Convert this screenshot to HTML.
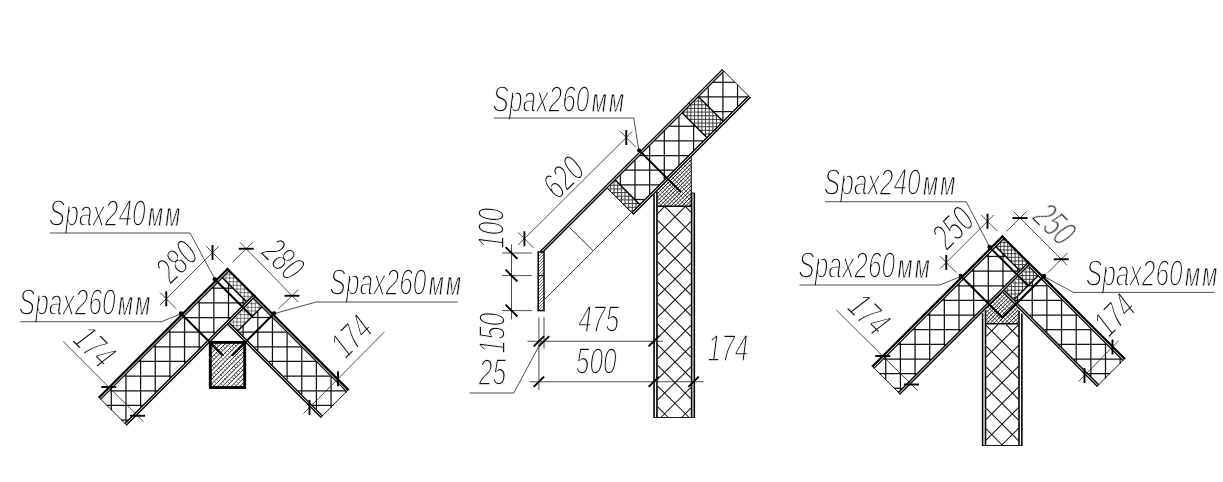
<!DOCTYPE html>
<html lang="ru"><head><meta charset="utf-8"><title>SIP panel joints</title>
<style>html,body{margin:0;padding:0;background:#fff}svg{display:block}
text{font-family:"Liberation Sans",sans-serif;font-style:italic;font-size:37px;fill:#111;stroke:#fff;stroke-width:1.5}
</style></head><body>
<svg width="1223" height="482" viewBox="0 0 1223 482">
<rect width="1223" height="482" fill="#fff"/>
<g id="labels" opacity="0.999">
<text transform="translate(48.8,226.2) rotate(0) scale(0.664,1)" text-anchor="start">Spax240<tspan font-size="33" letter-spacing="3.4" dx="3.5" stroke-width="0.8">мм</tspan></text>
<text transform="translate(18.8,315.2) rotate(0) scale(0.664,1)" text-anchor="start">Spax260<tspan font-size="33" letter-spacing="3.4" dx="3.5" stroke-width="0.8">мм</tspan></text>
<text transform="translate(329.55,294.95) rotate(0) scale(0.664,1)" text-anchor="start">Spax260<tspan font-size="33" letter-spacing="3.4" dx="3.5" stroke-width="0.8">мм</tspan></text>
<text transform="translate(185.58,270.58) rotate(-45) scale(0.664,1)" text-anchor="middle">280</text>
<text transform="translate(274.42,268.08) rotate(45) scale(0.664,1)" text-anchor="middle">280</text>
<text transform="translate(85.67,355.58) rotate(45) scale(0.664,1)" text-anchor="middle">174</text>
<text transform="translate(360.33,345.33) rotate(-45) scale(0.664,1)" text-anchor="middle">174</text>
<text transform="translate(492.55,111.7) rotate(0) scale(0.664,1)" text-anchor="start">Spax260<tspan font-size="33" letter-spacing="3.4" dx="3.5" stroke-width="0.8">мм</tspan></text>
<text transform="translate(572.33,186.33) rotate(-45) scale(0.664,1)" text-anchor="middle">620</text>
<text transform="translate(504.2,228.3) rotate(-90) scale(0.664,1)" text-anchor="middle">100</text>
<text transform="translate(505.2,333) rotate(-90) scale(0.664,1)" text-anchor="middle">150</text>
<text transform="translate(598.75,332.45) rotate(0) scale(0.664,1)" text-anchor="middle">475</text>
<text transform="translate(596.25,373.7) rotate(0) scale(0.664,1)" text-anchor="middle">500</text>
<text transform="translate(728,361.2) rotate(0) scale(0.664,1)" text-anchor="middle">174</text>
<text transform="translate(492.5,384.95) rotate(0) scale(0.664,1)" text-anchor="middle">25</text>
<text transform="translate(823.8,194.95) rotate(0) scale(0.664,1)" text-anchor="start">Spax240<tspan font-size="33" letter-spacing="3.4" dx="3.5" stroke-width="0.8">мм</tspan></text>
<text transform="translate(798.3,278.2) rotate(0) scale(0.664,1)" text-anchor="start">Spax260<tspan font-size="33" letter-spacing="3.4" dx="3.5" stroke-width="0.8">мм</tspan></text>
<text transform="translate(1085.8,285.8) rotate(0) scale(0.664,1)" text-anchor="start">Spax260<tspan font-size="33" letter-spacing="3.4" dx="3.5" stroke-width="0.8">мм</tspan></text>
<text transform="translate(961.83,236.83) rotate(-45) scale(0.664,1)" text-anchor="middle">250</text>
<text transform="translate(1045.67,233.08) rotate(45) scale(0.664,1)" text-anchor="middle">250</text>
<text transform="translate(860.17,323.08) rotate(45) scale(0.664,1)" text-anchor="middle">174</text>
<text transform="translate(1123.33,324.13) rotate(-45) scale(0.664,1)" text-anchor="middle">174</text>
</g>
<g id="drawing">
<line x1="111.3" y1="389.22" x2="111.3" y2="410.24" stroke="#111" stroke-width="1.25"/>
<line x1="125.95" y1="374.57" x2="125.95" y2="421.72" stroke="#111" stroke-width="1.25"/>
<line x1="140.6" y1="359.92" x2="140.6" y2="407.07" stroke="#111" stroke-width="1.25"/>
<line x1="155.25" y1="345.27" x2="155.25" y2="392.42" stroke="#111" stroke-width="1.25"/>
<line x1="169.9" y1="330.62" x2="169.9" y2="377.77" stroke="#111" stroke-width="1.25"/>
<line x1="184.55" y1="315.97" x2="184.55" y2="363.12" stroke="#111" stroke-width="1.25"/>
<line x1="199.2" y1="301.32" x2="199.2" y2="348.47" stroke="#111" stroke-width="1.25"/>
<line x1="213.85" y1="286.67" x2="213.85" y2="333.82" stroke="#111" stroke-width="1.25"/>
<line x1="228.5" y1="283.91" x2="228.5" y2="319.17" stroke="#111" stroke-width="1.25"/>
<line x1="243.15" y1="298.56" x2="243.15" y2="304.52" stroke="#111" stroke-width="1.25"/>
<line x1="212.32" y1="288.2" x2="232.79" y2="288.2" stroke="#111" stroke-width="1.25"/>
<line x1="197.67" y1="302.85" x2="244.82" y2="302.85" stroke="#111" stroke-width="1.25"/>
<line x1="183.02" y1="317.5" x2="230.17" y2="317.5" stroke="#111" stroke-width="1.25"/>
<line x1="168.37" y1="332.15" x2="215.52" y2="332.15" stroke="#111" stroke-width="1.25"/>
<line x1="153.72" y1="346.8" x2="200.87" y2="346.8" stroke="#111" stroke-width="1.25"/>
<line x1="139.07" y1="361.45" x2="186.22" y2="361.45" stroke="#111" stroke-width="1.25"/>
<line x1="124.42" y1="376.1" x2="171.57" y2="376.1" stroke="#111" stroke-width="1.25"/>
<line x1="109.77" y1="390.75" x2="156.92" y2="390.75" stroke="#111" stroke-width="1.25"/>
<line x1="106.46" y1="405.4" x2="142.27" y2="405.4" stroke="#111" stroke-width="1.25"/>
<line x1="121.11" y1="420.05" x2="127.62" y2="420.05" stroke="#111" stroke-width="1.25"/>
<line x1="226.02" y1="274.5" x2="226.02" y2="281.43" stroke="#444" stroke-width="0.7"/>
<line x1="229.68" y1="271.8" x2="229.68" y2="285.09" stroke="#444" stroke-width="0.7"/>
<line x1="233.34" y1="275.46" x2="233.34" y2="288.75" stroke="#444" stroke-width="0.7"/>
<line x1="237" y1="279.12" x2="237" y2="292.41" stroke="#444" stroke-width="0.7"/>
<line x1="240.66" y1="282.78" x2="240.66" y2="296.07" stroke="#444" stroke-width="0.7"/>
<line x1="244.32" y1="286.44" x2="244.32" y2="299.73" stroke="#444" stroke-width="0.7"/>
<line x1="247.98" y1="290.1" x2="247.98" y2="299.69" stroke="#444" stroke-width="0.7"/>
<line x1="251.64" y1="293.76" x2="251.64" y2="296.03" stroke="#444" stroke-width="0.7"/>
<line x1="226.14" y1="274.38" x2="232.26" y2="274.38" stroke="#444" stroke-width="0.7"/>
<line x1="222.63" y1="278.04" x2="235.92" y2="278.04" stroke="#444" stroke-width="0.7"/>
<line x1="226.29" y1="281.7" x2="239.58" y2="281.7" stroke="#444" stroke-width="0.7"/>
<line x1="229.95" y1="285.36" x2="243.24" y2="285.36" stroke="#444" stroke-width="0.7"/>
<line x1="233.61" y1="289.02" x2="246.9" y2="289.02" stroke="#444" stroke-width="0.7"/>
<line x1="237.27" y1="292.68" x2="250.56" y2="292.68" stroke="#444" stroke-width="0.7"/>
<line x1="240.93" y1="296.34" x2="251.33" y2="296.34" stroke="#444" stroke-width="0.7"/>
<line x1="244.59" y1="300" x2="247.67" y2="300" stroke="#444" stroke-width="0.7"/>
<line x1="243.15" y1="325.6" x2="243.15" y2="335.82" stroke="#111" stroke-width="1.25"/>
<line x1="257.8" y1="310.95" x2="257.8" y2="350.47" stroke="#111" stroke-width="1.25"/>
<line x1="272.45" y1="317.97" x2="272.45" y2="365.12" stroke="#111" stroke-width="1.25"/>
<line x1="287.1" y1="332.62" x2="287.1" y2="379.77" stroke="#111" stroke-width="1.25"/>
<line x1="301.75" y1="347.27" x2="301.75" y2="394.42" stroke="#111" stroke-width="1.25"/>
<line x1="316.4" y1="361.92" x2="316.4" y2="409.07" stroke="#111" stroke-width="1.25"/>
<line x1="331.05" y1="376.57" x2="331.05" y2="407.68" stroke="#111" stroke-width="1.25"/>
<line x1="345.7" y1="391.22" x2="345.7" y2="393.03" stroke="#111" stroke-width="1.25"/>
<line x1="251.25" y1="317.5" x2="271.98" y2="317.5" stroke="#111" stroke-width="1.25"/>
<line x1="239.48" y1="332.15" x2="286.63" y2="332.15" stroke="#111" stroke-width="1.25"/>
<line x1="254.13" y1="346.8" x2="301.28" y2="346.8" stroke="#111" stroke-width="1.25"/>
<line x1="268.78" y1="361.45" x2="315.93" y2="361.45" stroke="#111" stroke-width="1.25"/>
<line x1="283.43" y1="376.1" x2="330.58" y2="376.1" stroke="#111" stroke-width="1.25"/>
<line x1="298.08" y1="390.75" x2="345.23" y2="390.75" stroke="#111" stroke-width="1.25"/>
<line x1="312.73" y1="405.4" x2="333.33" y2="405.4" stroke="#111" stroke-width="1.25"/>
<line x1="233.34" y1="319.85" x2="233.34" y2="326.01" stroke="#444" stroke-width="0.7"/>
<line x1="237" y1="316.19" x2="237" y2="329.67" stroke="#444" stroke-width="0.7"/>
<line x1="240.66" y1="312.53" x2="240.66" y2="328.09" stroke="#444" stroke-width="0.7"/>
<line x1="244.32" y1="308.87" x2="244.32" y2="324.43" stroke="#444" stroke-width="0.7"/>
<line x1="247.98" y1="305.21" x2="247.98" y2="320.77" stroke="#444" stroke-width="0.7"/>
<line x1="251.64" y1="301.55" x2="251.64" y2="317.11" stroke="#444" stroke-width="0.7"/>
<line x1="255.3" y1="300.82" x2="255.3" y2="313.45" stroke="#444" stroke-width="0.7"/>
<line x1="258.96" y1="304.48" x2="258.96" y2="309.79" stroke="#444" stroke-width="0.7"/>
<line x1="253.19" y1="300" x2="254.48" y2="300" stroke="#444" stroke-width="0.7"/>
<line x1="249.53" y1="303.66" x2="258.14" y2="303.66" stroke="#444" stroke-width="0.7"/>
<line x1="245.87" y1="307.32" x2="261.43" y2="307.32" stroke="#444" stroke-width="0.7"/>
<line x1="242.21" y1="310.98" x2="257.77" y2="310.98" stroke="#444" stroke-width="0.7"/>
<line x1="238.55" y1="314.64" x2="254.11" y2="314.64" stroke="#444" stroke-width="0.7"/>
<line x1="234.89" y1="318.3" x2="250.45" y2="318.3" stroke="#444" stroke-width="0.7"/>
<line x1="231.23" y1="321.96" x2="246.79" y2="321.96" stroke="#444" stroke-width="0.7"/>
<line x1="232.95" y1="325.62" x2="243.13" y2="325.62" stroke="#444" stroke-width="0.7"/>
<line x1="236.61" y1="329.28" x2="239.47" y2="329.28" stroke="#444" stroke-width="0.7"/>
<line x1="228.28" y1="268.28" x2="98.81" y2="397.75" stroke="#000" stroke-width="2.2"/>
<line x1="229.97" y1="269.97" x2="100.5" y2="399.45" stroke="#000" stroke-width="1.2"/>
<line x1="255.75" y1="295.75" x2="126.28" y2="425.22" stroke="#000" stroke-width="1.4"/>
<line x1="254.26" y1="294.26" x2="124.79" y2="423.73" stroke="#000" stroke-width="1.4"/>
<line x1="98.31" y1="396.69" x2="127.05" y2="425.43" stroke="#000" stroke-width="0.9"/>
<line x1="226.69" y1="268.31" x2="255.43" y2="297.05" stroke="#000" stroke-width="2.3"/>
<line x1="221.91" y1="277.33" x2="246.41" y2="301.83" stroke="#000" stroke-width="1.5"/>
<line x1="255.46" y1="297.02" x2="348.59" y2="390.15" stroke="#000" stroke-width="2.2"/>
<line x1="253.77" y1="298.72" x2="346.89" y2="391.84" stroke="#000" stroke-width="1.2"/>
<line x1="227.99" y1="324.49" x2="321.12" y2="417.61" stroke="#000" stroke-width="1.4"/>
<line x1="229.48" y1="323" x2="322.61" y2="416.13" stroke="#000" stroke-width="1.4"/>
<line x1="349.08" y1="389.08" x2="320.34" y2="417.83" stroke="#000" stroke-width="0.9"/>
<line x1="262.25" y1="306.49" x2="237.75" y2="330.99" stroke="#000" stroke-width="1.4"/>
<line x1="215.27" y1="279.73" x2="252.56" y2="317.03" stroke="#000" stroke-width="2"/>
<circle cx="214.84" cy="279.31" r="2.2" fill="#000"/>
<line x1="181.25" y1="313.75" x2="222.97" y2="355.47" stroke="#000" stroke-width="2"/>
<line x1="273.75" y1="313.75" x2="232.03" y2="355.47" stroke="#000" stroke-width="2"/>
<circle cx="180.97" cy="313.47" r="2.2" fill="#000"/>
<circle cx="274.03" cy="313.47" r="2.2" fill="#000"/>
<line x1="210.3" y1="345.6" x2="213.5" y2="342.4" stroke="#111" stroke-width="0.9"/>
<line x1="210.3" y1="350" x2="217.9" y2="342.4" stroke="#111" stroke-width="0.9"/>
<line x1="210.3" y1="354.4" x2="222.3" y2="342.4" stroke="#111" stroke-width="0.9"/>
<line x1="210.3" y1="358.8" x2="226.7" y2="342.4" stroke="#111" stroke-width="0.9"/>
<line x1="210.3" y1="363.2" x2="231.1" y2="342.4" stroke="#111" stroke-width="0.9"/>
<line x1="210.3" y1="367.6" x2="235.5" y2="342.4" stroke="#111" stroke-width="0.9"/>
<line x1="210.3" y1="372" x2="239.9" y2="342.4" stroke="#111" stroke-width="0.9"/>
<line x1="210.3" y1="376.4" x2="244.3" y2="342.4" stroke="#111" stroke-width="0.9"/>
<line x1="210.3" y1="380.8" x2="244.7" y2="346.4" stroke="#111" stroke-width="0.9"/>
<line x1="210.3" y1="385.2" x2="244.7" y2="350.8" stroke="#111" stroke-width="0.9"/>
<line x1="212.4" y1="387.5" x2="244.7" y2="355.2" stroke="#111" stroke-width="0.9"/>
<line x1="216.8" y1="387.5" x2="244.7" y2="359.6" stroke="#111" stroke-width="0.9"/>
<line x1="221.2" y1="387.5" x2="244.7" y2="364" stroke="#111" stroke-width="0.9"/>
<line x1="225.6" y1="387.5" x2="244.7" y2="368.4" stroke="#111" stroke-width="0.9"/>
<line x1="230" y1="387.5" x2="244.7" y2="372.8" stroke="#111" stroke-width="0.9"/>
<line x1="234.4" y1="387.5" x2="244.7" y2="377.2" stroke="#111" stroke-width="0.9"/>
<line x1="238.8" y1="387.5" x2="244.7" y2="381.6" stroke="#111" stroke-width="0.9"/>
<line x1="243.2" y1="387.5" x2="244.7" y2="386" stroke="#111" stroke-width="0.9"/>
<line x1="210.3" y1="386.3" x2="211.5" y2="387.5" stroke="#222" stroke-width="0.8" stroke-dasharray="2.6 3" stroke-dashoffset="0"/>
<line x1="210.3" y1="381.9" x2="215.9" y2="387.5" stroke="#222" stroke-width="0.8" stroke-dasharray="2.6 3" stroke-dashoffset="2.8"/>
<line x1="210.3" y1="377.5" x2="220.3" y2="387.5" stroke="#222" stroke-width="0.8" stroke-dasharray="2.6 3" stroke-dashoffset="0"/>
<line x1="210.3" y1="373.1" x2="224.7" y2="387.5" stroke="#222" stroke-width="0.8" stroke-dasharray="2.6 3" stroke-dashoffset="2.8"/>
<line x1="210.3" y1="368.7" x2="229.1" y2="387.5" stroke="#222" stroke-width="0.8" stroke-dasharray="2.6 3" stroke-dashoffset="0"/>
<line x1="210.3" y1="364.3" x2="233.5" y2="387.5" stroke="#222" stroke-width="0.8" stroke-dasharray="2.6 3" stroke-dashoffset="2.8"/>
<line x1="210.3" y1="359.9" x2="237.9" y2="387.5" stroke="#222" stroke-width="0.8" stroke-dasharray="2.6 3" stroke-dashoffset="0"/>
<line x1="210.3" y1="355.5" x2="242.3" y2="387.5" stroke="#222" stroke-width="0.8" stroke-dasharray="2.6 3" stroke-dashoffset="2.8"/>
<line x1="210.3" y1="351.1" x2="244.7" y2="385.5" stroke="#222" stroke-width="0.8" stroke-dasharray="2.6 3" stroke-dashoffset="0"/>
<line x1="210.3" y1="346.7" x2="244.7" y2="381.1" stroke="#222" stroke-width="0.8" stroke-dasharray="2.6 3" stroke-dashoffset="2.8"/>
<line x1="210.4" y1="342.4" x2="244.7" y2="376.7" stroke="#222" stroke-width="0.8" stroke-dasharray="2.6 3" stroke-dashoffset="0"/>
<line x1="214.8" y1="342.4" x2="244.7" y2="372.3" stroke="#222" stroke-width="0.8" stroke-dasharray="2.6 3" stroke-dashoffset="2.8"/>
<line x1="219.2" y1="342.4" x2="244.7" y2="367.9" stroke="#222" stroke-width="0.8" stroke-dasharray="2.6 3" stroke-dashoffset="0"/>
<line x1="223.6" y1="342.4" x2="244.7" y2="363.5" stroke="#222" stroke-width="0.8" stroke-dasharray="2.6 3" stroke-dashoffset="2.8"/>
<line x1="228" y1="342.4" x2="244.7" y2="359.1" stroke="#222" stroke-width="0.8" stroke-dasharray="2.6 3" stroke-dashoffset="0"/>
<line x1="232.4" y1="342.4" x2="244.7" y2="354.7" stroke="#222" stroke-width="0.8" stroke-dasharray="2.6 3" stroke-dashoffset="2.8"/>
<line x1="236.8" y1="342.4" x2="244.7" y2="350.3" stroke="#222" stroke-width="0.8" stroke-dasharray="2.6 3" stroke-dashoffset="0"/>
<line x1="241.2" y1="342.4" x2="244.7" y2="345.9" stroke="#222" stroke-width="0.8" stroke-dasharray="2.6 3" stroke-dashoffset="2.8"/>
<rect x="210.3" y="342.4" width="34.4" height="45.1" fill="none" stroke="#000" stroke-width="2.9"/>
<line x1="208.12" y1="340.62" x2="222.97" y2="355.47" stroke="#000" stroke-width="2"/>
<line x1="246.88" y1="340.62" x2="232.03" y2="355.47" stroke="#000" stroke-width="2"/>
<polyline points="50,233 190,233 215.27,279.73" fill="none" stroke="#222" stroke-width="0.8"/>
<polyline points="20,321.75 161.25,321.75 181.25,313.75" fill="none" stroke="#222" stroke-width="0.8"/>
<polyline points="457.5,302 316.25,302 273.75,313.75" fill="none" stroke="#222" stroke-width="0.8"/>
<line x1="218.72" y1="246.28" x2="160.03" y2="304.97" stroke="#222" stroke-width="0.8"/>
<line x1="212.5" y1="245" x2="212.5" y2="260" stroke="#000" stroke-width="1.9"/>
<line x1="166.25" y1="291.25" x2="166.25" y2="306.25" stroke="#000" stroke-width="1.9"/>
<line x1="222.4" y1="262.4" x2="206.14" y2="246.14" stroke="#222" stroke-width="0.8"/>
<line x1="176.15" y1="308.65" x2="159.89" y2="292.39" stroke="#222" stroke-width="0.8"/>
<line x1="240.11" y1="242.44" x2="298.14" y2="302.06" stroke="#222" stroke-width="0.8"/>
<line x1="238.75" y1="248.75" x2="253.75" y2="248.75" stroke="#000" stroke-width="1.9"/>
<line x1="284.5" y1="295.75" x2="299.5" y2="295.75" stroke="#000" stroke-width="1.9"/>
<line x1="252.7" y1="242.47" x2="232.64" y2="262" stroke="#222" stroke-width="0.8"/>
<line x1="298.45" y1="289.47" x2="278.39" y2="309" stroke="#222" stroke-width="0.8"/>
<line x1="143.51" y1="421.76" x2="63.14" y2="341.39" stroke="#222" stroke-width="0.8"/>
<line x1="130" y1="415.75" x2="145" y2="415.75" stroke="#000" stroke-width="1.9"/>
<line x1="101.25" y1="387" x2="116.25" y2="387" stroke="#000" stroke-width="1.9"/>
<line x1="303.52" y1="413.54" x2="384.46" y2="331.88" stroke="#222" stroke-width="0.8"/>
<line x1="309.5" y1="400" x2="309.5" y2="415" stroke="#000" stroke-width="1.9"/>
<line x1="338" y1="371.25" x2="338" y2="386.25" stroke="#000" stroke-width="1.9"/>
<line x1="708.25" y1="87.13" x2="708.25" y2="106.39" stroke="#111" stroke-width="1.25"/>
<line x1="722.9" y1="72.48" x2="722.9" y2="121.04" stroke="#111" stroke-width="1.25"/>
<line x1="737.55" y1="84.92" x2="737.55" y2="106.55" stroke="#111" stroke-width="1.25"/>
<line x1="713.08" y1="82.3" x2="734.93" y2="82.3" stroke="#111" stroke-width="1.25"/>
<line x1="698.81" y1="96.95" x2="747.15" y2="96.95" stroke="#111" stroke-width="1.25"/>
<line x1="713.46" y1="111.6" x2="732.5" y2="111.6" stroke="#111" stroke-width="1.25"/>
<line x1="620.35" y1="175.03" x2="620.35" y2="184.94" stroke="#111" stroke-width="1.25"/>
<line x1="635" y1="160.38" x2="635" y2="199.59" stroke="#111" stroke-width="1.25"/>
<line x1="649.65" y1="145.73" x2="649.65" y2="194.45" stroke="#111" stroke-width="1.25"/>
<line x1="664.3" y1="131.08" x2="664.3" y2="179.8" stroke="#111" stroke-width="1.25"/>
<line x1="678.95" y1="116.43" x2="678.95" y2="165.15" stroke="#111" stroke-width="1.25"/>
<line x1="693.6" y1="124.26" x2="693.6" y2="150.5" stroke="#111" stroke-width="1.25"/>
<line x1="669.13" y1="126.25" x2="695.59" y2="126.25" stroke="#111" stroke-width="1.25"/>
<line x1="654.48" y1="140.9" x2="703.2" y2="140.9" stroke="#111" stroke-width="1.25"/>
<line x1="639.83" y1="155.55" x2="688.55" y2="155.55" stroke="#111" stroke-width="1.25"/>
<line x1="625.18" y1="170.2" x2="673.9" y2="170.2" stroke="#111" stroke-width="1.25"/>
<line x1="620.26" y1="184.85" x2="659.25" y2="184.85" stroke="#111" stroke-width="1.25"/>
<line x1="634.91" y1="199.5" x2="644.6" y2="199.5" stroke="#111" stroke-width="1.25"/>
<line x1="683.58" y1="111.8" x2="683.58" y2="114.24" stroke="#2a2a2a" stroke-width="0.9"/>
<line x1="687.24" y1="108.14" x2="687.24" y2="117.9" stroke="#2a2a2a" stroke-width="0.9"/>
<line x1="690.9" y1="104.48" x2="690.9" y2="121.56" stroke="#2a2a2a" stroke-width="0.9"/>
<line x1="694.56" y1="100.82" x2="694.56" y2="125.22" stroke="#2a2a2a" stroke-width="0.9"/>
<line x1="698.22" y1="97.16" x2="698.22" y2="128.88" stroke="#2a2a2a" stroke-width="0.9"/>
<line x1="701.88" y1="100.02" x2="701.88" y2="132.54" stroke="#2a2a2a" stroke-width="0.9"/>
<line x1="705.54" y1="103.68" x2="705.54" y2="136.2" stroke="#2a2a2a" stroke-width="0.9"/>
<line x1="709.2" y1="107.34" x2="709.2" y2="134.9" stroke="#2a2a2a" stroke-width="0.9"/>
<line x1="712.86" y1="111" x2="712.86" y2="131.24" stroke="#2a2a2a" stroke-width="0.9"/>
<line x1="716.52" y1="114.66" x2="716.52" y2="127.58" stroke="#2a2a2a" stroke-width="0.9"/>
<line x1="720.18" y1="118.32" x2="720.18" y2="123.92" stroke="#2a2a2a" stroke-width="0.9"/>
<line x1="697.94" y1="97.44" x2="699.3" y2="97.44" stroke="#2a2a2a" stroke-width="0.9"/>
<line x1="694.28" y1="101.1" x2="702.96" y2="101.1" stroke="#2a2a2a" stroke-width="0.9"/>
<line x1="690.62" y1="104.76" x2="706.62" y2="104.76" stroke="#2a2a2a" stroke-width="0.9"/>
<line x1="686.96" y1="108.42" x2="710.28" y2="108.42" stroke="#2a2a2a" stroke-width="0.9"/>
<line x1="683.3" y1="112.08" x2="713.94" y2="112.08" stroke="#2a2a2a" stroke-width="0.9"/>
<line x1="685.08" y1="115.74" x2="717.6" y2="115.74" stroke="#2a2a2a" stroke-width="0.9"/>
<line x1="688.74" y1="119.4" x2="721.26" y2="119.4" stroke="#2a2a2a" stroke-width="0.9"/>
<line x1="692.4" y1="123.06" x2="721.04" y2="123.06" stroke="#2a2a2a" stroke-width="0.9"/>
<line x1="696.06" y1="126.72" x2="717.38" y2="126.72" stroke="#2a2a2a" stroke-width="0.9"/>
<line x1="699.72" y1="130.38" x2="713.72" y2="130.38" stroke="#2a2a2a" stroke-width="0.9"/>
<line x1="703.38" y1="134.04" x2="710.06" y2="134.04" stroke="#2a2a2a" stroke-width="0.9"/>
<line x1="610.38" y1="185" x2="610.38" y2="191.37" stroke="#2a2a2a" stroke-width="0.9"/>
<line x1="614.04" y1="181.34" x2="614.04" y2="195.03" stroke="#2a2a2a" stroke-width="0.9"/>
<line x1="617.7" y1="182.29" x2="617.7" y2="198.69" stroke="#2a2a2a" stroke-width="0.9"/>
<line x1="621.36" y1="185.95" x2="621.36" y2="202.35" stroke="#2a2a2a" stroke-width="0.9"/>
<line x1="625.02" y1="189.61" x2="625.02" y2="206.01" stroke="#2a2a2a" stroke-width="0.9"/>
<line x1="628.68" y1="193.27" x2="628.68" y2="209.67" stroke="#2a2a2a" stroke-width="0.9"/>
<line x1="632.34" y1="196.93" x2="632.34" y2="211.76" stroke="#2a2a2a" stroke-width="0.9"/>
<line x1="636" y1="200.59" x2="636" y2="208.1" stroke="#2a2a2a" stroke-width="0.9"/>
<line x1="613.76" y1="181.62" x2="617.03" y2="181.62" stroke="#2a2a2a" stroke-width="0.9"/>
<line x1="610.1" y1="185.28" x2="620.69" y2="185.28" stroke="#2a2a2a" stroke-width="0.9"/>
<line x1="607.95" y1="188.94" x2="624.35" y2="188.94" stroke="#2a2a2a" stroke-width="0.9"/>
<line x1="611.61" y1="192.6" x2="628.01" y2="192.6" stroke="#2a2a2a" stroke-width="0.9"/>
<line x1="615.27" y1="196.26" x2="631.67" y2="196.26" stroke="#2a2a2a" stroke-width="0.9"/>
<line x1="618.93" y1="199.92" x2="635.33" y2="199.92" stroke="#2a2a2a" stroke-width="0.9"/>
<line x1="622.59" y1="203.58" x2="638.99" y2="203.58" stroke="#2a2a2a" stroke-width="0.9"/>
<line x1="626.25" y1="207.24" x2="636.86" y2="207.24" stroke="#2a2a2a" stroke-width="0.9"/>
<line x1="629.91" y1="210.9" x2="633.2" y2="210.9" stroke="#2a2a2a" stroke-width="0.9"/>
<line x1="722.56" y1="69.36" x2="540.34" y2="251.58" stroke="#000" stroke-width="1.35"/>
<line x1="724.08" y1="70.88" x2="541.86" y2="253.1" stroke="#000" stroke-width="1.35"/>
<line x1="750.38" y1="97.18" x2="633.28" y2="214.28" stroke="#000" stroke-width="1.35"/>
<line x1="748.86" y1="95.66" x2="631.76" y2="212.76" stroke="#000" stroke-width="1.35"/>
<line x1="721.82" y1="69.18" x2="750.56" y2="97.92" stroke="#000" stroke-width="0.9"/>
<line x1="698.55" y1="96.69" x2="723.05" y2="121.19" stroke="#000" stroke-width="1.3"/>
<line x1="682.29" y1="112.95" x2="706.79" y2="137.45" stroke="#000" stroke-width="1.3"/>
<line x1="615.33" y1="179.92" x2="639.83" y2="204.41" stroke="#000" stroke-width="1.4"/>
<line x1="607.12" y1="188.12" x2="633.74" y2="214.74" stroke="#000" stroke-width="1"/>
<line x1="688.37" y1="102.63" x2="690.49" y2="104.75" stroke="#000" stroke-width="1.2"/>
<line x1="714.99" y1="129.25" x2="717.11" y2="131.37" stroke="#000" stroke-width="1.2"/>
<line x1="657.5" y1="193.5" x2="691.25" y2="159.75" stroke="#111" stroke-width="0.95"/>
<line x1="657.5" y1="197.2" x2="691.25" y2="163.45" stroke="#111" stroke-width="0.95"/>
<line x1="657.5" y1="200.9" x2="691.25" y2="167.15" stroke="#111" stroke-width="0.95"/>
<line x1="657.5" y1="204.6" x2="691.25" y2="170.85" stroke="#111" stroke-width="0.95"/>
<line x1="659.55" y1="206.25" x2="691.25" y2="174.55" stroke="#111" stroke-width="0.95"/>
<line x1="663.25" y1="206.25" x2="691.25" y2="178.25" stroke="#111" stroke-width="0.95"/>
<line x1="666.95" y1="206.25" x2="691.25" y2="181.95" stroke="#111" stroke-width="0.95"/>
<line x1="670.65" y1="206.25" x2="691.25" y2="185.65" stroke="#111" stroke-width="0.95"/>
<line x1="674.35" y1="206.25" x2="691.25" y2="189.35" stroke="#111" stroke-width="0.95"/>
<line x1="678.05" y1="206.25" x2="691.25" y2="193.05" stroke="#111" stroke-width="0.95"/>
<line x1="681.75" y1="206.25" x2="691.25" y2="196.75" stroke="#111" stroke-width="0.95"/>
<line x1="685.45" y1="206.25" x2="691.25" y2="200.45" stroke="#111" stroke-width="0.95"/>
<line x1="689.15" y1="206.25" x2="691.25" y2="204.15" stroke="#111" stroke-width="0.95"/>
<line x1="657.5" y1="201.8" x2="661.95" y2="206.25" stroke="#333" stroke-width="0.7"/>
<line x1="657.5" y1="196.9" x2="666.85" y2="206.25" stroke="#333" stroke-width="0.7"/>
<line x1="657.5" y1="192" x2="671.75" y2="206.25" stroke="#333" stroke-width="0.7"/>
<line x1="659.45" y1="189.05" x2="676.65" y2="206.25" stroke="#333" stroke-width="0.7"/>
<line x1="661.9" y1="186.6" x2="681.55" y2="206.25" stroke="#333" stroke-width="0.7"/>
<line x1="664.35" y1="184.15" x2="686.45" y2="206.25" stroke="#333" stroke-width="0.7"/>
<line x1="666.8" y1="181.7" x2="691.25" y2="206.15" stroke="#333" stroke-width="0.7"/>
<line x1="669.25" y1="179.25" x2="691.25" y2="201.25" stroke="#333" stroke-width="0.7"/>
<line x1="671.7" y1="176.8" x2="691.25" y2="196.35" stroke="#333" stroke-width="0.7"/>
<line x1="674.15" y1="174.35" x2="691.25" y2="191.45" stroke="#333" stroke-width="0.7"/>
<line x1="676.6" y1="171.9" x2="691.25" y2="186.55" stroke="#333" stroke-width="0.7"/>
<line x1="679.05" y1="169.45" x2="691.25" y2="181.65" stroke="#333" stroke-width="0.7"/>
<line x1="681.5" y1="167" x2="691.25" y2="176.75" stroke="#333" stroke-width="0.7"/>
<line x1="683.95" y1="164.55" x2="691.25" y2="171.85" stroke="#333" stroke-width="0.7"/>
<line x1="686.4" y1="162.1" x2="691.25" y2="166.95" stroke="#333" stroke-width="0.7"/>
<line x1="688.85" y1="159.65" x2="691.25" y2="162.05" stroke="#333" stroke-width="0.7"/>
<line x1="691.25" y1="157.25" x2="691.25" y2="206.25" stroke="#000" stroke-width="1"/>
<line x1="657.5" y1="206.25" x2="691.25" y2="206.25" stroke="#000" stroke-width="1.4"/>
<line x1="657.7" y1="213.48" x2="664.28" y2="206.9" stroke="#111" stroke-width="1.05"/>
<line x1="657.7" y1="234.2" x2="685" y2="206.9" stroke="#111" stroke-width="1.05"/>
<line x1="657.7" y1="254.92" x2="690.9" y2="221.72" stroke="#111" stroke-width="1.05"/>
<line x1="657.7" y1="275.64" x2="690.9" y2="242.44" stroke="#111" stroke-width="1.05"/>
<line x1="657.7" y1="296.36" x2="690.9" y2="263.16" stroke="#111" stroke-width="1.05"/>
<line x1="657.7" y1="317.08" x2="690.9" y2="283.88" stroke="#111" stroke-width="1.05"/>
<line x1="657.7" y1="337.8" x2="690.9" y2="304.6" stroke="#111" stroke-width="1.05"/>
<line x1="657.7" y1="358.52" x2="690.9" y2="325.32" stroke="#111" stroke-width="1.05"/>
<line x1="657.7" y1="379.24" x2="690.9" y2="346.04" stroke="#111" stroke-width="1.05"/>
<line x1="657.7" y1="399.96" x2="690.9" y2="366.76" stroke="#111" stroke-width="1.05"/>
<line x1="660.88" y1="417.5" x2="690.9" y2="387.48" stroke="#111" stroke-width="1.05"/>
<line x1="681.6" y1="417.5" x2="690.9" y2="408.2" stroke="#111" stroke-width="1.05"/>
<line x1="657.7" y1="406.8" x2="668.4" y2="417.5" stroke="#111" stroke-width="1.05"/>
<line x1="657.7" y1="386.08" x2="689.12" y2="417.5" stroke="#111" stroke-width="1.05"/>
<line x1="657.7" y1="365.36" x2="690.9" y2="398.56" stroke="#111" stroke-width="1.05"/>
<line x1="657.7" y1="344.64" x2="690.9" y2="377.84" stroke="#111" stroke-width="1.05"/>
<line x1="657.7" y1="323.92" x2="690.9" y2="357.12" stroke="#111" stroke-width="1.05"/>
<line x1="657.7" y1="303.2" x2="690.9" y2="336.4" stroke="#111" stroke-width="1.05"/>
<line x1="657.7" y1="282.48" x2="690.9" y2="315.68" stroke="#111" stroke-width="1.05"/>
<line x1="657.7" y1="261.76" x2="690.9" y2="294.96" stroke="#111" stroke-width="1.05"/>
<line x1="657.7" y1="241.04" x2="690.9" y2="274.24" stroke="#111" stroke-width="1.05"/>
<line x1="657.7" y1="220.32" x2="690.9" y2="253.52" stroke="#111" stroke-width="1.05"/>
<line x1="665" y1="206.9" x2="690.9" y2="232.8" stroke="#111" stroke-width="1.05"/>
<line x1="685.72" y1="206.9" x2="690.9" y2="212.08" stroke="#111" stroke-width="1.05"/>
<line x1="654.05" y1="194.5" x2="654.05" y2="417.5" stroke="#000" stroke-width="1.6"/>
<line x1="656.95" y1="191.6" x2="656.95" y2="417.5" stroke="#000" stroke-width="1.6"/>
<line x1="691.6" y1="193" x2="691.6" y2="417.5" stroke="#000" stroke-width="1.6"/>
<line x1="694.3" y1="193" x2="694.3" y2="417.5" stroke="#000" stroke-width="1.6"/>
<line x1="653.25" y1="417.5" x2="695.1" y2="417.5" stroke="#000" stroke-width="0.9"/>
<line x1="690.8" y1="193" x2="695.1" y2="193" stroke="#000" stroke-width="0.9"/>
<line x1="638.4" y1="149.65" x2="680.82" y2="192.07" stroke="#000" stroke-width="2"/>
<circle cx="639.03" cy="150.28" r="2" fill="#000"/>
<line x1="631.5" y1="212.5" x2="544.4" y2="299.6" stroke="#222" stroke-width="0.8"/>
<line x1="569.4" y1="227.25" x2="592.75" y2="250.4" stroke="#111" stroke-width="0.9"/>
<line x1="538.2" y1="253.8" x2="540" y2="252" stroke="#333" stroke-width="0.7"/>
<line x1="538.2" y1="256.8" x2="543" y2="252" stroke="#333" stroke-width="0.7"/>
<line x1="538.2" y1="259.8" x2="544" y2="254" stroke="#333" stroke-width="0.7"/>
<line x1="538.2" y1="262.8" x2="544" y2="257" stroke="#333" stroke-width="0.7"/>
<line x1="538.2" y1="265.8" x2="544" y2="260" stroke="#333" stroke-width="0.7"/>
<line x1="538.2" y1="268.8" x2="544" y2="263" stroke="#333" stroke-width="0.7"/>
<line x1="538.2" y1="271.8" x2="544" y2="266" stroke="#333" stroke-width="0.7"/>
<line x1="538.2" y1="274.8" x2="544" y2="269" stroke="#333" stroke-width="0.7"/>
<line x1="538.2" y1="277.8" x2="544" y2="272" stroke="#333" stroke-width="0.7"/>
<line x1="538.2" y1="280.8" x2="544" y2="275" stroke="#333" stroke-width="0.7"/>
<line x1="538.2" y1="283.8" x2="544" y2="278" stroke="#333" stroke-width="0.7"/>
<line x1="538.2" y1="286.8" x2="544" y2="281" stroke="#333" stroke-width="0.7"/>
<line x1="538.2" y1="289.8" x2="544" y2="284" stroke="#333" stroke-width="0.7"/>
<line x1="538.2" y1="292.8" x2="544" y2="287" stroke="#333" stroke-width="0.7"/>
<line x1="538.2" y1="295.8" x2="544" y2="290" stroke="#333" stroke-width="0.7"/>
<line x1="538.2" y1="298.8" x2="544" y2="293" stroke="#333" stroke-width="0.7"/>
<line x1="538.2" y1="301.8" x2="544" y2="296" stroke="#333" stroke-width="0.7"/>
<line x1="538.2" y1="304.8" x2="544" y2="299" stroke="#333" stroke-width="0.7"/>
<line x1="538.2" y1="307.8" x2="544" y2="302" stroke="#333" stroke-width="0.7"/>
<line x1="538.4" y1="310.6" x2="544" y2="305" stroke="#333" stroke-width="0.7"/>
<line x1="541.4" y1="310.6" x2="544" y2="308" stroke="#333" stroke-width="0.7"/>
<rect x="538.2" y="252" width="5.8" height="58.6" fill="none" stroke="#000" stroke-width="1.5"/>
<line x1="538.2" y1="275.6" x2="544" y2="275.6" stroke="#000" stroke-width="1"/>
<polyline points="493.75,118 633.75,118 638.75,150" fill="none" stroke="#222" stroke-width="0.8"/>
<line x1="632.49" y1="131.3" x2="518.16" y2="244.95" stroke="#222" stroke-width="0.8"/>
<line x1="626.25" y1="130" x2="626.25" y2="145" stroke="#000" stroke-width="1.9"/>
<line x1="524.4" y1="231.25" x2="524.4" y2="246.25" stroke="#000" stroke-width="1.9"/>
<line x1="636.12" y1="147.43" x2="619.9" y2="131.12" stroke="#222" stroke-width="0.8"/>
<line x1="533.57" y1="247.97" x2="518.05" y2="232.37" stroke="#222" stroke-width="0.8"/>
<line x1="511.5" y1="244.4" x2="511.5" y2="319.4" stroke="#222" stroke-width="0.8"/>
<line x1="502" y1="253" x2="532" y2="253" stroke="#222" stroke-width="0.8"/>
<line x1="505.56" y1="247.06" x2="517.44" y2="258.94" stroke="#000" stroke-width="1.9"/>
<line x1="502" y1="275.6" x2="532" y2="275.6" stroke="#222" stroke-width="0.8"/>
<line x1="505.56" y1="269.66" x2="517.44" y2="281.54" stroke="#000" stroke-width="1.9"/>
<line x1="502" y1="310.6" x2="532" y2="310.6" stroke="#222" stroke-width="0.8"/>
<line x1="505.56" y1="304.66" x2="517.44" y2="316.54" stroke="#000" stroke-width="1.9"/>
<line x1="527.5" y1="341.25" x2="663" y2="341.25" stroke="#222" stroke-width="0.8"/>
<line x1="529.5" y1="381.75" x2="703.75" y2="381.75" stroke="#222" stroke-width="0.8"/>
<line x1="533.7" y1="346.45" x2="544.1" y2="336.05" stroke="#000" stroke-width="1.9"/>
<line x1="538.8" y1="346.45" x2="549.2" y2="336.05" stroke="#000" stroke-width="1.9"/>
<line x1="648.55" y1="346.45" x2="658.95" y2="336.05" stroke="#000" stroke-width="1.9"/>
<line x1="533.7" y1="386.95" x2="544.1" y2="376.55" stroke="#000" stroke-width="1.9"/>
<line x1="648.55" y1="386.95" x2="658.95" y2="376.55" stroke="#000" stroke-width="1.9"/>
<line x1="688.4" y1="386.95" x2="698.8" y2="376.55" stroke="#000" stroke-width="1.9"/>
<line x1="538.9" y1="317.25" x2="538.9" y2="390" stroke="#222" stroke-width="0.8"/>
<line x1="544" y1="317.25" x2="544" y2="348.75" stroke="#222" stroke-width="0.8"/>
<polyline points="469.5,393 513.75,393 541.5,341.25" fill="none" stroke="#222" stroke-width="0.8"/>
<line x1="885.75" y1="357.17" x2="885.75" y2="380.26" stroke="#111" stroke-width="1.25"/>
<line x1="900.4" y1="342.52" x2="900.4" y2="389.67" stroke="#111" stroke-width="1.25"/>
<line x1="915.05" y1="327.87" x2="915.05" y2="375.02" stroke="#111" stroke-width="1.25"/>
<line x1="929.7" y1="313.22" x2="929.7" y2="360.37" stroke="#111" stroke-width="1.25"/>
<line x1="944.35" y1="298.57" x2="944.35" y2="345.72" stroke="#111" stroke-width="1.25"/>
<line x1="959" y1="283.92" x2="959" y2="331.07" stroke="#111" stroke-width="1.25"/>
<line x1="973.65" y1="269.27" x2="973.65" y2="316.42" stroke="#111" stroke-width="1.25"/>
<line x1="988.3" y1="254.62" x2="988.3" y2="301.77" stroke="#111" stroke-width="1.25"/>
<line x1="1002.95" y1="253.65" x2="1002.95" y2="287.12" stroke="#111" stroke-width="1.25"/>
<line x1="1017.6" y1="268.3" x2="1017.6" y2="272.47" stroke="#111" stroke-width="1.25"/>
<line x1="986.47" y1="256.45" x2="1005.75" y2="256.45" stroke="#111" stroke-width="1.25"/>
<line x1="971.82" y1="271.1" x2="1018.97" y2="271.1" stroke="#111" stroke-width="1.25"/>
<line x1="957.17" y1="285.75" x2="1004.32" y2="285.75" stroke="#111" stroke-width="1.25"/>
<line x1="942.52" y1="300.4" x2="989.67" y2="300.4" stroke="#111" stroke-width="1.25"/>
<line x1="927.87" y1="315.05" x2="975.02" y2="315.05" stroke="#111" stroke-width="1.25"/>
<line x1="913.22" y1="329.7" x2="960.37" y2="329.7" stroke="#111" stroke-width="1.25"/>
<line x1="898.57" y1="344.35" x2="945.72" y2="344.35" stroke="#111" stroke-width="1.25"/>
<line x1="883.92" y1="359" x2="931.07" y2="359" stroke="#111" stroke-width="1.25"/>
<line x1="879.14" y1="373.65" x2="916.42" y2="373.65" stroke="#111" stroke-width="1.25"/>
<line x1="893.79" y1="388.3" x2="901.77" y2="388.3" stroke="#111" stroke-width="1.25"/>
<line x1="996.76" y1="246.16" x2="996.76" y2="247.46" stroke="#2a2a2a" stroke-width="0.9"/>
<line x1="1000.42" y1="242.5" x2="1000.42" y2="251.12" stroke="#2a2a2a" stroke-width="0.9"/>
<line x1="1004.08" y1="238.84" x2="1004.08" y2="254.78" stroke="#2a2a2a" stroke-width="0.9"/>
<line x1="1007.74" y1="242.46" x2="1007.74" y2="258.44" stroke="#2a2a2a" stroke-width="0.9"/>
<line x1="1011.4" y1="246.12" x2="1011.4" y2="262.1" stroke="#2a2a2a" stroke-width="0.9"/>
<line x1="1015.06" y1="249.78" x2="1015.06" y2="265.76" stroke="#2a2a2a" stroke-width="0.9"/>
<line x1="1018.72" y1="253.44" x2="1018.72" y2="269.42" stroke="#2a2a2a" stroke-width="0.9"/>
<line x1="1022.38" y1="257.1" x2="1022.38" y2="267.69" stroke="#2a2a2a" stroke-width="0.9"/>
<line x1="1026.04" y1="260.76" x2="1026.04" y2="264.03" stroke="#2a2a2a" stroke-width="0.9"/>
<line x1="1003.9" y1="239.02" x2="1004.3" y2="239.02" stroke="#2a2a2a" stroke-width="0.9"/>
<line x1="1000.24" y1="242.68" x2="1007.96" y2="242.68" stroke="#2a2a2a" stroke-width="0.9"/>
<line x1="996.58" y1="246.34" x2="1011.62" y2="246.34" stroke="#2a2a2a" stroke-width="0.9"/>
<line x1="999.3" y1="250" x2="1015.28" y2="250" stroke="#2a2a2a" stroke-width="0.9"/>
<line x1="1002.96" y1="253.66" x2="1018.94" y2="253.66" stroke="#2a2a2a" stroke-width="0.9"/>
<line x1="1006.62" y1="257.32" x2="1022.6" y2="257.32" stroke="#2a2a2a" stroke-width="0.9"/>
<line x1="1010.28" y1="260.98" x2="1026.26" y2="260.98" stroke="#2a2a2a" stroke-width="0.9"/>
<line x1="1013.94" y1="264.64" x2="1025.43" y2="264.64" stroke="#2a2a2a" stroke-width="0.9"/>
<line x1="1017.6" y1="268.3" x2="1021.77" y2="268.3" stroke="#2a2a2a" stroke-width="0.9"/>
<line x1="1017.6" y1="296.23" x2="1017.6" y2="302.87" stroke="#111" stroke-width="1.25"/>
<line x1="1032.25" y1="281.58" x2="1032.25" y2="317.52" stroke="#111" stroke-width="1.25"/>
<line x1="1046.9" y1="285.02" x2="1046.9" y2="332.17" stroke="#111" stroke-width="1.25"/>
<line x1="1061.55" y1="299.67" x2="1061.55" y2="346.82" stroke="#111" stroke-width="1.25"/>
<line x1="1076.2" y1="314.32" x2="1076.2" y2="361.47" stroke="#111" stroke-width="1.25"/>
<line x1="1090.85" y1="328.97" x2="1090.85" y2="376.12" stroke="#111" stroke-width="1.25"/>
<line x1="1105.5" y1="343.62" x2="1105.5" y2="378.46" stroke="#111" stroke-width="1.25"/>
<line x1="1120.15" y1="358.27" x2="1120.15" y2="363.81" stroke="#111" stroke-width="1.25"/>
<line x1="1028.08" y1="285.75" x2="1047.63" y2="285.75" stroke="#111" stroke-width="1.25"/>
<line x1="1015.13" y1="300.4" x2="1062.28" y2="300.4" stroke="#111" stroke-width="1.25"/>
<line x1="1029.78" y1="315.05" x2="1076.93" y2="315.05" stroke="#111" stroke-width="1.25"/>
<line x1="1044.43" y1="329.7" x2="1091.58" y2="329.7" stroke="#111" stroke-width="1.25"/>
<line x1="1059.08" y1="344.35" x2="1106.23" y2="344.35" stroke="#111" stroke-width="1.25"/>
<line x1="1073.73" y1="359" x2="1120.88" y2="359" stroke="#111" stroke-width="1.25"/>
<line x1="1088.38" y1="373.65" x2="1110.31" y2="373.65" stroke="#111" stroke-width="1.25"/>
<line x1="1007.74" y1="287.85" x2="1007.74" y2="293.01" stroke="#2a2a2a" stroke-width="0.9"/>
<line x1="1011.4" y1="284.19" x2="1011.4" y2="296.67" stroke="#2a2a2a" stroke-width="0.9"/>
<line x1="1015.06" y1="280.53" x2="1015.06" y2="298.77" stroke="#2a2a2a" stroke-width="0.9"/>
<line x1="1018.72" y1="276.87" x2="1018.72" y2="295.11" stroke="#2a2a2a" stroke-width="0.9"/>
<line x1="1022.38" y1="273.21" x2="1022.38" y2="291.45" stroke="#2a2a2a" stroke-width="0.9"/>
<line x1="1026.04" y1="269.55" x2="1026.04" y2="287.79" stroke="#2a2a2a" stroke-width="0.9"/>
<line x1="1029.7" y1="267.82" x2="1029.7" y2="284.13" stroke="#2a2a2a" stroke-width="0.9"/>
<line x1="1033.36" y1="271.48" x2="1033.36" y2="280.47" stroke="#2a2a2a" stroke-width="0.9"/>
<line x1="1037.02" y1="275.14" x2="1037.02" y2="276.81" stroke="#2a2a2a" stroke-width="0.9"/>
<line x1="1027.29" y1="268.3" x2="1030.18" y2="268.3" stroke="#2a2a2a" stroke-width="0.9"/>
<line x1="1023.63" y1="271.96" x2="1033.84" y2="271.96" stroke="#2a2a2a" stroke-width="0.9"/>
<line x1="1019.97" y1="275.62" x2="1037.5" y2="275.62" stroke="#2a2a2a" stroke-width="0.9"/>
<line x1="1016.31" y1="279.28" x2="1034.55" y2="279.28" stroke="#2a2a2a" stroke-width="0.9"/>
<line x1="1012.65" y1="282.94" x2="1030.89" y2="282.94" stroke="#2a2a2a" stroke-width="0.9"/>
<line x1="1008.99" y1="286.6" x2="1027.23" y2="286.6" stroke="#2a2a2a" stroke-width="0.9"/>
<line x1="1005.33" y1="290.26" x2="1023.57" y2="290.26" stroke="#2a2a2a" stroke-width="0.9"/>
<line x1="1008.65" y1="293.92" x2="1019.91" y2="293.92" stroke="#2a2a2a" stroke-width="0.9"/>
<line x1="1012.31" y1="297.58" x2="1016.25" y2="297.58" stroke="#2a2a2a" stroke-width="0.9"/>
<line x1="1003.18" y1="235.78" x2="872.22" y2="366.73" stroke="#000" stroke-width="2.2"/>
<line x1="1004.87" y1="237.47" x2="873.92" y2="368.43" stroke="#000" stroke-width="1.2"/>
<line x1="1030.65" y1="263.25" x2="899.69" y2="394.2" stroke="#000" stroke-width="1.4"/>
<line x1="1029.16" y1="261.76" x2="898.21" y2="392.72" stroke="#000" stroke-width="1.4"/>
<line x1="871.73" y1="365.67" x2="900.47" y2="394.41" stroke="#000" stroke-width="0.9"/>
<line x1="1001.59" y1="235.81" x2="1030.33" y2="264.55" stroke="#000" stroke-width="2.3"/>
<line x1="995.47" y1="246.17" x2="1019.97" y2="270.67" stroke="#000" stroke-width="1.5"/>
<line x1="1030.36" y1="264.52" x2="1124.9" y2="359.06" stroke="#000" stroke-width="2.2"/>
<line x1="1028.67" y1="266.22" x2="1123.21" y2="360.76" stroke="#000" stroke-width="1.2"/>
<line x1="1002.89" y1="291.99" x2="1097.44" y2="386.53" stroke="#000" stroke-width="1.4"/>
<line x1="1004.38" y1="290.5" x2="1098.92" y2="385.04" stroke="#000" stroke-width="1.4"/>
<line x1="1125.4" y1="358" x2="1096.66" y2="386.74" stroke="#000" stroke-width="0.9"/>
<line x1="1038.5" y1="275.34" x2="1014" y2="299.84" stroke="#000" stroke-width="1.4"/>
<line x1="989.95" y1="247.45" x2="1028.6" y2="286.09" stroke="#000" stroke-width="2"/>
<circle cx="989.53" cy="247.02" r="2.2" fill="#000"/>
<line x1="961.1" y1="276.3" x2="1002.82" y2="318.01" stroke="#000" stroke-width="2"/>
<line x1="1043.7" y1="276.3" x2="1001.98" y2="318.01" stroke="#000" stroke-width="2"/>
<circle cx="960.82" cy="276.01" r="2.2" fill="#000"/>
<circle cx="1043.98" cy="276.01" r="2.2" fill="#000"/>
<line x1="986.1" y1="308.9" x2="1002.46" y2="292.54" stroke="#111" stroke-width="0.95"/>
<line x1="986.1" y1="312.6" x2="1004.29" y2="294.41" stroke="#111" stroke-width="0.95"/>
<line x1="986.1" y1="316.3" x2="1006.11" y2="296.29" stroke="#111" stroke-width="0.95"/>
<line x1="986.1" y1="320" x2="1007.94" y2="298.16" stroke="#111" stroke-width="0.95"/>
<line x1="986.1" y1="323.7" x2="1009.77" y2="300.03" stroke="#111" stroke-width="0.95"/>
<line x1="989.75" y1="323.75" x2="1011.59" y2="301.91" stroke="#111" stroke-width="0.95"/>
<line x1="993.45" y1="323.75" x2="1013.42" y2="303.78" stroke="#111" stroke-width="0.95"/>
<line x1="997.15" y1="323.75" x2="1015.25" y2="305.65" stroke="#111" stroke-width="0.95"/>
<line x1="1000.85" y1="323.75" x2="1017.08" y2="307.52" stroke="#111" stroke-width="0.95"/>
<line x1="1004.55" y1="323.75" x2="1018.4" y2="309.9" stroke="#111" stroke-width="0.95"/>
<line x1="1008.25" y1="323.75" x2="1018.4" y2="313.6" stroke="#111" stroke-width="0.95"/>
<line x1="1011.95" y1="323.75" x2="1018.4" y2="317.3" stroke="#111" stroke-width="0.95"/>
<line x1="1015.65" y1="323.75" x2="1018.4" y2="321" stroke="#111" stroke-width="0.95"/>
<line x1="986.1" y1="319.7" x2="990.15" y2="323.75" stroke="#333" stroke-width="0.7"/>
<line x1="986.1" y1="314.8" x2="995.05" y2="323.75" stroke="#333" stroke-width="0.7"/>
<line x1="986.1" y1="309.9" x2="999.95" y2="323.75" stroke="#333" stroke-width="0.7"/>
<line x1="987.81" y1="306.71" x2="1004.85" y2="323.75" stroke="#333" stroke-width="0.7"/>
<line x1="990.29" y1="304.29" x2="1009.75" y2="323.75" stroke="#333" stroke-width="0.7"/>
<line x1="992.77" y1="301.87" x2="1014.65" y2="323.75" stroke="#333" stroke-width="0.7"/>
<line x1="995.25" y1="299.45" x2="1018.4" y2="322.6" stroke="#333" stroke-width="0.7"/>
<line x1="997.73" y1="297.03" x2="1018.4" y2="317.7" stroke="#333" stroke-width="0.7"/>
<line x1="1000.21" y1="294.61" x2="1018.4" y2="312.8" stroke="#333" stroke-width="0.7"/>
<line x1="986.1" y1="323.75" x2="1018.4" y2="323.75" stroke="#000" stroke-width="1.4"/>
<line x1="986.1" y1="336.43" x2="998.13" y2="324.4" stroke="#111" stroke-width="1.05"/>
<line x1="986.1" y1="357.15" x2="1018.4" y2="324.85" stroke="#111" stroke-width="1.05"/>
<line x1="986.1" y1="377.87" x2="1018.4" y2="345.57" stroke="#111" stroke-width="1.05"/>
<line x1="986.1" y1="398.59" x2="1018.4" y2="366.29" stroke="#111" stroke-width="1.05"/>
<line x1="986.1" y1="419.31" x2="1018.4" y2="387.01" stroke="#111" stroke-width="1.05"/>
<line x1="986.1" y1="440.03" x2="1018.4" y2="407.73" stroke="#111" stroke-width="1.05"/>
<line x1="1001.35" y1="445.5" x2="1018.4" y2="428.45" stroke="#111" stroke-width="1.05"/>
<line x1="986.1" y1="428.95" x2="1002.65" y2="445.5" stroke="#111" stroke-width="1.05"/>
<line x1="986.1" y1="408.23" x2="1018.4" y2="440.53" stroke="#111" stroke-width="1.05"/>
<line x1="986.1" y1="387.51" x2="1018.4" y2="419.81" stroke="#111" stroke-width="1.05"/>
<line x1="986.1" y1="366.79" x2="1018.4" y2="399.09" stroke="#111" stroke-width="1.05"/>
<line x1="986.1" y1="346.07" x2="1018.4" y2="378.37" stroke="#111" stroke-width="1.05"/>
<line x1="986.1" y1="325.35" x2="1018.4" y2="357.65" stroke="#111" stroke-width="1.05"/>
<line x1="1005.87" y1="324.4" x2="1018.4" y2="336.93" stroke="#111" stroke-width="1.05"/>
<line x1="982.6" y1="313.1" x2="982.6" y2="445.5" stroke="#000" stroke-width="1.6"/>
<line x1="985.5" y1="310.2" x2="985.5" y2="445.5" stroke="#000" stroke-width="1.6"/>
<line x1="1019" y1="310.7" x2="1019" y2="445.5" stroke="#000" stroke-width="1.6"/>
<line x1="1021.9" y1="313.6" x2="1021.9" y2="445.5" stroke="#000" stroke-width="1.6"/>
<line x1="982.05" y1="445.5" x2="1022.45" y2="445.5" stroke="#000" stroke-width="0.9"/>
<line x1="989.39" y1="304.58" x2="1002.82" y2="318.01" stroke="#000" stroke-width="2"/>
<line x1="1015.41" y1="304.58" x2="1001.98" y2="318.01" stroke="#000" stroke-width="2"/>
<polyline points="825,201.75 966.25,201.75 989.95,247.45" fill="none" stroke="#222" stroke-width="0.8"/>
<polyline points="799.5,285 940,285 961.1,276.3" fill="none" stroke="#222" stroke-width="0.8"/>
<polyline points="1214.5,292.4 1073.4,292.4 1043.7,276.3" fill="none" stroke="#222" stroke-width="0.8"/>
<line x1="993.72" y1="215.03" x2="940.03" y2="268.72" stroke="#222" stroke-width="0.8"/>
<line x1="987.5" y1="213.75" x2="987.5" y2="228.75" stroke="#000" stroke-width="1.9"/>
<line x1="946.25" y1="255" x2="946.25" y2="270" stroke="#000" stroke-width="1.9"/>
<line x1="997.4" y1="231.15" x2="981.14" y2="214.89" stroke="#222" stroke-width="0.8"/>
<line x1="956.15" y1="272.4" x2="939.89" y2="256.14" stroke="#222" stroke-width="0.8"/>
<line x1="1013.78" y1="211.78" x2="1067.47" y2="265.47" stroke="#222" stroke-width="0.8"/>
<line x1="1012.5" y1="218" x2="1027.5" y2="218" stroke="#000" stroke-width="1.9"/>
<line x1="1053.75" y1="259.25" x2="1068.75" y2="259.25" stroke="#000" stroke-width="1.9"/>
<line x1="1026.36" y1="211.64" x2="1006.56" y2="231.44" stroke="#222" stroke-width="0.8"/>
<line x1="1067.61" y1="252.89" x2="1047.81" y2="272.69" stroke="#222" stroke-width="0.8"/>
<line x1="917.54" y1="390.48" x2="836.23" y2="309.89" stroke="#222" stroke-width="0.8"/>
<line x1="904" y1="384.5" x2="919" y2="384.5" stroke="#000" stroke-width="1.9"/>
<line x1="875.25" y1="356" x2="890.25" y2="356" stroke="#000" stroke-width="1.9"/>
<line x1="1078.54" y1="381.56" x2="1118.81" y2="340.58" stroke="#222" stroke-width="0.8"/>
<line x1="1084.5" y1="368" x2="1084.5" y2="383" stroke="#000" stroke-width="1.9"/>
<line x1="1112.5" y1="339.5" x2="1112.5" y2="354.5" stroke="#000" stroke-width="1.9"/>
</g></svg></body></html>
